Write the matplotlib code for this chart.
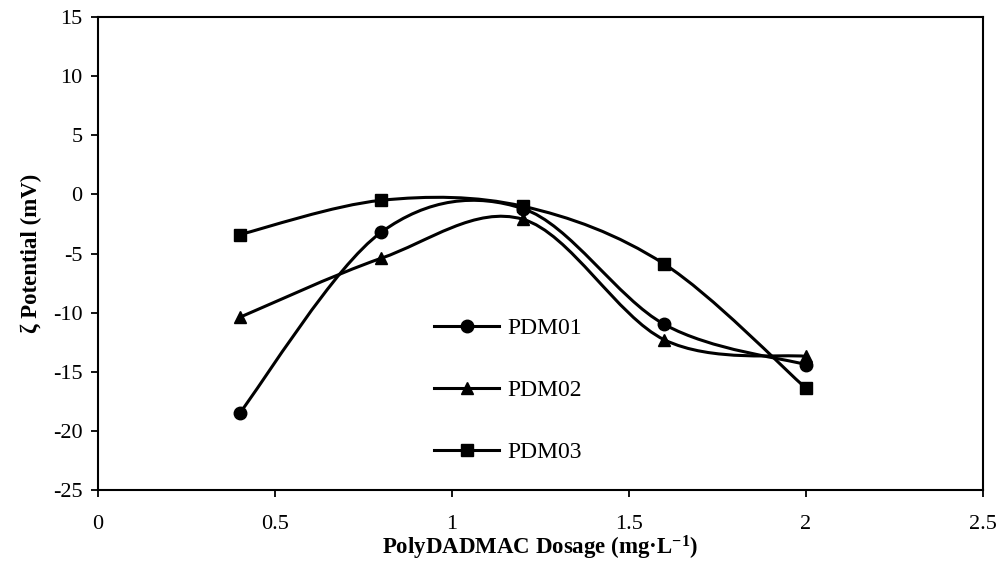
import numpy as np
import matplotlib
matplotlib.use('Agg')
import matplotlib.pyplot as plt
from matplotlib.path import Path
from matplotlib.patches import PathPatch

plt.rcParams['font.family'] = ['Liberation Serif', 'DejaVu Serif']
plt.rcParams['mathtext.default'] = 'regular'
plt.rcParams['axes.unicode_minus'] = False

dosage = [0.4, 0.8, 1.2, 1.6, 2.0]
pdm01 = [-18.5, -3.2, -1.2, -11.0, -14.4]
pdm02 = [-10.4, -5.4, -2.1, -12.3, -13.7]
pdm03 = [-3.4, -0.5, -1.0, -5.9, -16.4]
series = [("PDM01", pdm01, "o"), ("PDM02", pdm02, "^"), ("PDM03", pdm03, "s")]


def smooth_path(x, y):
    # Excel style smoothed line: cubic bezier, control points from neighbours
    p = np.column_stack([x, y]).astype(float)
    n = len(p)
    verts, codes = [p[0]], [Path.MOVETO]
    for i in range(n - 1):
        p0 = p[i - 1] if i > 0 else p[i]
        p3 = p[i + 2] if i + 2 < n else p[i + 1]
        c1 = p[i] + (p[i + 1] - p0) / 6
        c2 = p[i + 1] - (p3 - p[i]) / 6
        verts += [c1, c2, p[i + 1]]
        codes += [Path.CURVE4] * 3
    return Path(verts, codes)


fig = plt.figure(figsize=(9.97, 5.68), dpi=100)
ax = fig.add_axes([0.0983, 0.1373, 0.8877, 0.8327])

for name, vals, mk in series:
    ax.add_patch(PathPatch(smooth_path(dosage, vals), fill=False, edgecolor="black",
                           linewidth=2.2, capstyle="round", joinstyle="round"))
    ax.plot(dosage, vals, linestyle="none", marker=mk, markersize=9, color="black")
    ax.plot([], [], color="black", linewidth=2.2, marker=mk, markersize=9, label=name)

ax.set_xlim(0, 2.5)
ax.set_ylim(-25, 15)
ax.set_xticks([0, 0.5, 1, 1.5, 2, 2.5])
ax.set_xticklabels(["0", "0.5", "1", "1.5", "2", "2.5"])
ax.set_yticks(np.arange(-25, 16, 5))
ax.tick_params(direction="out", length=5, width=1.3, labelsize=16, pad=13)
ax.tick_params(axis="y", pad=6)
for s in ax.spines.values():
    s.set_linewidth(1.5)

ax.set_xlabel(r"PolyDADMAC Dosage (mg·L$^{-1}$)", fontsize=16.5, fontweight="bold", labelpad=0)
ax.set_ylabel("ζ Potential (mV)", fontsize=16.5, fontweight="bold", labelpad=8)

ax.legend(loc="center left", bbox_to_anchor=(0.38, 0.211), frameon=False,
          fontsize=17, labelspacing=1.72, handlelength=2.75, handletextpad=0.35,
          borderpad=0, borderaxespad=0)

fig.savefig("out.png", dpi=100)
